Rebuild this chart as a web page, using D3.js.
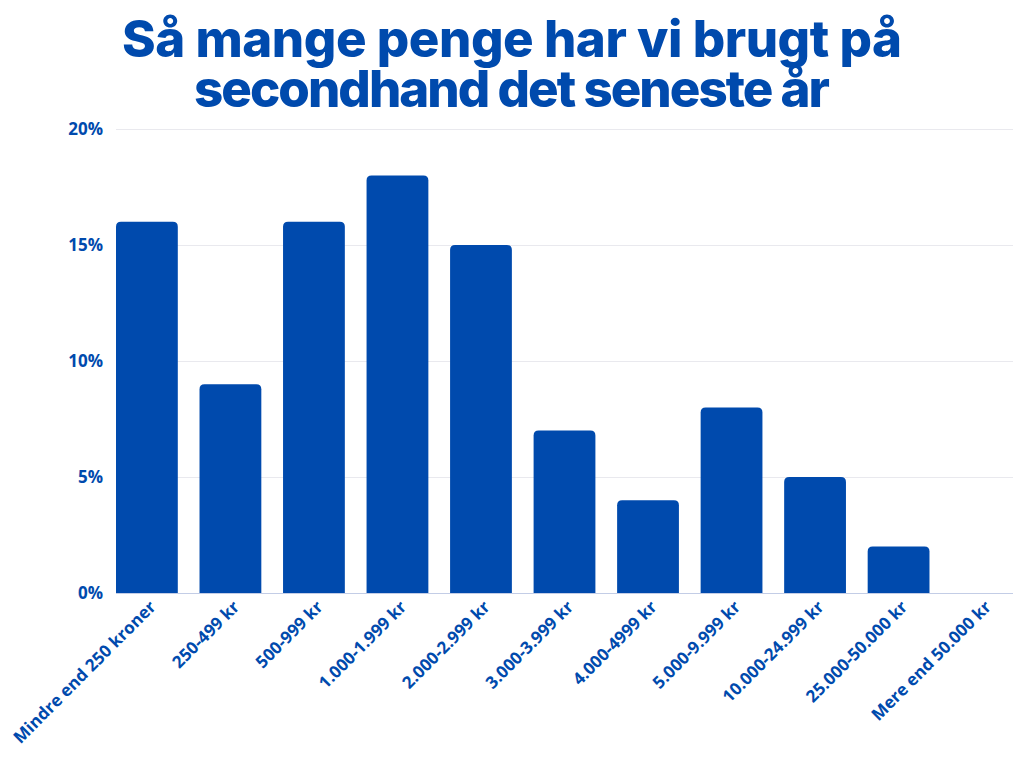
<!DOCTYPE html>
<html><head><meta charset="utf-8">
<script src="https://cdn.jsdelivr.net/npm/d3@7"></script>
<style>body{margin:0;background:#fff}svg{display:block}</style>
</head><body>
<svg id="c" width="1024" height="768"></svg>
<script>
const categories = ["Mindre end 250 kroner","250-499 kr","500-999 kr","1.000-1.999 kr","2.000-2.999 kr","3.000-3.999 kr","4.000-4999 kr","5.000-9.999 kr","10.000-24.999 kr","25.000-50.000 kr","Mere end 50.000 kr"];
const values = [16, 9, 16, 18, 15, 7, 4, 8, 5, 2, 0];
const yTicks = [0, 5, 10, 15, 20];
const titleLines = ["Så mange penge har vi brugt på", "secondhand det seneste år"];

(function () {
const blue = "#004aad";
const svg = d3.select("#c");
const mLeft = 116, mRight = 1013, mTop = 129, mBottom = 593;

const x = d3.scaleBand().domain(categories).range([mLeft, mRight]).paddingInner(0.26).paddingOuter(0);
const y = d3.scaleLinear().domain([0, 20]).range([mBottom, mTop]);

// title
const titleWidths = [780, 636];
svg.append("g").selectAll("text").data(titleLines).join("text")
  .attr("text-anchor", "middle")
  .attr("font-family", "Inter, 'Open Sans', sans-serif").attr("font-weight", 800)
  .attr("font-size", 51).attr("fill", blue)
  .attr("x", 512).attr("y", (d, i) => 57 + i * 50)
  .attr("textLength", (d, i) => titleWidths[i]).attr("lengthAdjust", "spacing")
  .text(d => d);

// gridlines
const yAxis = d3.axisLeft(y).tickValues(yTicks).tickSize(-(mRight - mLeft)).tickFormat(d => d + "%").tickPadding(13);
const ga = svg.append("g").attr("transform", `translate(${mLeft},0)`).call(yAxis);
ga.select(".domain").remove();
ga.selectAll(".tick line").attr("stroke", d => d === 0 ? "#c3cde6" : "#e9e9ee").attr("stroke-width", 1);
ga.selectAll(".tick text").attr("fill", blue).attr("font-family", "'Open Sans', sans-serif")
  .attr("font-weight", 700).attr("font-size", 17);

// bars with rounded tops
const r = 5;
function barPath(d) {
  const x0 = x(d.c), w = x.bandwidth(), y0 = y(d.v), y1 = y(0);
  const h = y1 - y0;
  if (h <= 0) return "";
  const rr = Math.min(r, h, w / 2);
  return `M${x0},${y1}V${y0 + rr}Q${x0},${y0} ${x0 + rr},${y0}H${x0 + w - rr}Q${x0 + w},${y0} ${x0 + w},${y0 + rr}V${y1}Z`;
}
svg.append("g").selectAll("path").data(categories.map((c, i) => ({c, v: values[i]}))).join("path")
  .attr("d", barPath).attr("fill", blue);

// x axis labels
const xAxis = d3.axisBottom(x).tickSize(0).tickPadding(0);
const gx = svg.append("g").attr("transform", `translate(0,${mBottom})`).call(xAxis);
gx.select(".domain").remove();
gx.selectAll(".tick text").attr("fill", blue).attr("font-family", "'Open Sans', sans-serif")
  .attr("font-weight", 700).attr("font-size", 17)
  .attr("text-anchor", "end").attr("dy", null).attr("y", 0)
  .attr("transform", "translate(10,15) rotate(-45)");
})();
</script>
</body></html>
